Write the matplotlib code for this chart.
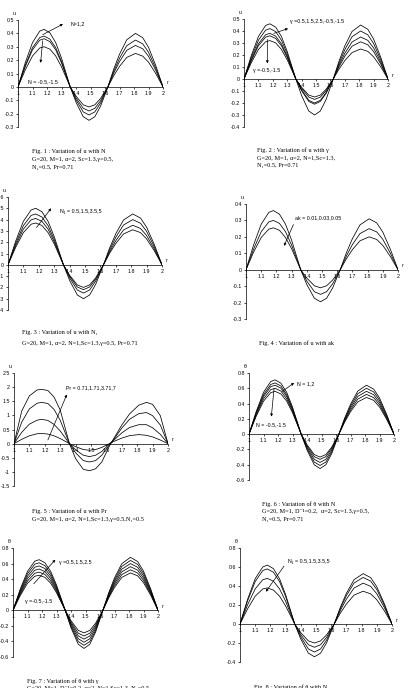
# Velocity / temperature profiles, 8 small panels (Figs. 1-8)
import matplotlib
matplotlib.use("Agg")
import matplotlib.pyplot as plt

# =========================
# Data
# =========================
r = [1.00, 1.05, 1.10, 1.15, 1.18, 1.22, 1.26, 1.30, 1.36,
     1.40, 1.45, 1.49, 1.53, 1.57, 1.62,
     1.66, 1.70, 1.75, 1.81, 1.86, 1.90, 1.95, 2.00]

# Fig 1 : u with N
u_N = [
    [0, .181, .331, .417, .43, .404, .331, .215, 0, -.069, -.134, -.15, -.134, -.086, 0, .132, .244, .352, .40, .368, .296, .16, 0],
    [0, .160, .293, .369, .38, .357, .293, .19, 0, -.083, -.160, -.18, -.160, -.103, 0, .116, .214, .308, .35, .322, .259, .14, 0],
    [0, .151, .277, .349, .36, .338, .277, .18, 0, -.097, -.187, -.21, -.187, -.120, 0, .102, .189, .273, .31, .285, .229, .124, 0],
    [0, .126, .231, .291, .30, .282, .231, .15, 0, -.115, -.223, -.25, -.223, -.143, 0, .083, .153, .22, .25, .23, .185, .10, 0],
]
# Fig 2 : u with gamma
u_gamma = [
    [0, .193, .354, .446, .46, .432, .354, .23, 0, -.069, -.134, -.15, -.134, -.086, 0, .149, .275, .396, .45, .414, .333, .18, 0],
    [0, .176, .323, .407, .42, .395, .323, .21, 0, -.078, -.151, -.17, -.151, -.097, 0, .132, .244, .352, .40, .368, .296, .16, 0],
    [0, .160, .293, .369, .38, .357, .293, .19, 0, -.092, -.178, -.20, -.178, -.114, 0, .116, .214, .308, .35, .322, .259, .14, 0],
    [0, .151, .277, .349, .36, .338, .277, .18, 0, -.097, -.187, -.21, -.187, -.120, 0, .102, .189, .273, .31, .285, .229, .124, 0],
    [0, .134, .246, .310, .32, .301, .246, .16, 0, -.138, -.267, -.30, -.267, -.171, 0, .083, .153, .22, .25, .23, .185, .10, 0],
]
# Fig 3 : u with N1
u_N1 = [
    [0, .21, .385, .485, .50, .47, .385, .25, 0, -.092, -.178, -.20, -.178, -.114, 0, .149, .275, .396, .45, .414, .333, .18, 0],
    [0, .189, .347, .437, .45, .423, .347, .225, 0, -.101, -.196, -.22, -.196, -.125, 0, .132, .244, .352, .40, .368, .296, .16, 0],
    [0, .172, .316, .398, .41, .385, .316, .205, 0, -.115, -.223, -.25, -.223, -.143, 0, .116, .214, .308, .35, .322, .259, .14, 0],
    [0, .155, .285, .359, .37, .348, .285, .185, 0, -.138, -.267, -.30, -.267, -.171, 0, .102, .189, .273, .31, .285, .229, .124, 0],
]
# Fig 4 : u with ak
u_ak = [
    [0, .151, .277, .349, .36, .338, .277, .18, 0, -.051, -.098, -.11, -.098, -.063, 0, .102, .189, .273, .31, .285, .229, .124, 0],
    [0, .126, .231, .291, .30, .282, .231, .15, 0, -.069, -.134, -.15, -.134, -.086, 0, .083, .153, .22, .25, .23, .185, .10, 0],
    [0, .107, .196, .247, .255, .24, .196, .128, 0, -.09, -.174, -.195, -.174, -.111, 0, .066, .122, .176, .20, .184, .148, .08, 0],
]
# Fig 5 : u with Pr
u_Pr = [
    [0, 1.15, 1.69, 1.90, 1.92, 1.88, 1.65, 1.19, 0, -.53, -.91, -.96, -.89, -.65, -.08, .29, .66, 1.05, 1.36, 1.46, 1.39, .99, 0],
    [0, .76, 1.23, 1.43, 1.46, 1.42, 1.21, .83, 0, -.325, -.60, -.65, -.60, -.41, -.04, .24, .55, .86, 1.06, 1.10, .99, .66, 0],
    [0, .40, .69, .83, .86, .82, .68, .45, 0, -.22, -.41, -.46, -.41, -.28, -.01, .18, .38, .57, .67, .67, .56, .33, 0],
    [0, .151, .277, .349, .36, .338, .277, .18, 0, -.108, -.209, -.235, -.209, -.134, 0, .106, .195, .282, .32, .294, .237, .128, 0],
]
# Fig 6 : theta with N
th_N = [
    [0, .298, .547, .689, .71, .667, .547, .355, 0, -.207, -.401, -.45, -.401, -.257, 0, .211, .39, .563, .64, .589, .474, .256, 0],
    [0, .281, .516, .65, .67, .63, .516, .335, 0, -.189, -.365, -.41, -.365, -.234, 0, .198, .366, .528, .60, .552, .444, .24, 0],
    [0, .269, .493, .621, .64, .602, .493, .32, 0, -.17, -.329, -.37, -.329, -.211, 0, .185, .342, .493, .56, .515, .414, .224, 0],
    [0, .252, .462, .582, .60, .564, .462, .30, 0, -.152, -.294, -.33, -.294, -.188, 0, .172, .317, .458, .52, .478, .385, .208, 0],
    [0, .235, .431, .543, .56, .526, .431, .28, 0, -.138, -.267, -.30, -.267, -.171, 0, .158, .293, .422, .48, .442, .355, .192, 0],
]
# Fig 7 : theta with gamma
th_gamma = [
    [0, .273, .50, .631, .65, .611, .50, .325, 0, -.133, -.258, -.29, -.258, -.165, 0, .224, .415, .598, .68, .626, .503, .272, 0],
    [0, .256, .47, .592, .61, .573, .47, .305, 0, -.152, -.294, -.33, -.294, -.188, 0, .211, .39, .563, .64, .589, .474, .256, 0],
    [0, .239, .439, .553, .57, .536, .439, .285, 0, -.17, -.329, -.37, -.329, -.211, 0, .198, .366, .528, .60, .552, .444, .24, 0],
    [0, .223, .408, .514, .53, .498, .408, .265, 0, -.189, -.365, -.41, -.365, -.234, 0, .185, .342, .493, .56, .515, .414, .224, 0],
    [0, .206, .377, .475, .49, .461, .377, .245, 0, -.207, -.401, -.45, -.401, -.257, 0, .172, .317, .458, .52, .478, .385, .208, 0],
    [0, .189, .347, .437, .45, .423, .347, .225, 0, -.225, -.436, -.49, -.436, -.279, 0, .158, .293, .422, .48, .442, .355, .192, 0],
]
# Fig 8 : theta with N1
th_N1 = [
    [0, .26, .477, .601, .62, .583, .477, .31, 0, -.092, -.178, -.20, -.178, -.114, 0, .175, .323, .466, .53, .488, .392, .212, 0],
    [0, .244, .447, .563, .58, .545, .447, .29, 0, -.113, -.218, -.245, -.218, -.14, 0, .162, .299, .431, .49, .451, .363, .196, 0],
    [0, .202, .37, .466, .48, .451, .37, .24, 0, -.136, -.263, -.295, -.263, -.168, 0, .142, .262, .378, .43, .396, .318, .172, 0],
    [0, .16, .293, .369, .38, .357, .293, .19, 0, -.159, -.307, -.345, -.307, -.197, 0, .114, .21, .304, .345, .317, .255, .138, 0],
]

x_ticks = [1, 1.1, 1.2, 1.3, 1.4, 1.5, 1.6, 1.7, 1.8, 1.9, 2]
x_tick_labels = ["1", "1.1", "1.2", "1.3", "1.4", "1.5", "1.6", "1.7", "1.8", "1.9", "2"]

yt_1 = [-0.3, -0.2, -0.1, 0, 0.1, 0.2, 0.3, 0.4, 0.5]
yt_2 = [-0.4, -0.3, -0.2, -0.1, 0, 0.1, 0.2, 0.3, 0.4, 0.5]
yt_3 = [-0.4, -0.3, -0.2, -0.1, 0, 0.1, 0.2, 0.3, 0.4, 0.5, 0.6]
yt_4 = [-0.3, -0.2, -0.1, 0, 0.1, 0.2, 0.3, 0.4]
yt_5 = [-1.5, -1, -0.5, 0, 0.5, 1, 1.5, 2, 2.5]
yt_6 = [-0.6, -0.4, -0.2, 0, 0.2, 0.4, 0.6, 0.8]
yt_8 = [-0.4, -0.2, 0, 0.2, 0.4, 0.6, 0.8]

# =========================
# Figure / style
# =========================
W, H = 409, 688
fig = plt.figure(figsize=(W / 100, H / 100), dpi=100)
sans = ["Liberation Sans", "DejaVu Sans"]
serif = ["Liberation Serif", "DejaVu Serif"]
TS = 3.8   # tick / annotation size
CS = 4.5   # caption size


def make_ax(left, right, top, bottom, curves, yticks, ylab):
    ax = fig.add_axes([left / W, 1 - bottom / H, (right - left) / W, (bottom - top) / H])
    for c in curves:
        ax.plot(r, c, color="black", lw=0.55)
    ax.set_xlim(1, 2)
    ax.set_ylim(yticks[0], yticks[-1])
    for s in ("top", "right"):
        ax.spines[s].set_visible(False)
    ax.spines["bottom"].set_position(("data", 0))
    for s in ("left", "bottom"):
        ax.spines[s].set_linewidth(0.5)
    ax.set_xticks(x_ticks)
    ax.set_xticklabels(x_tick_labels, family=sans, fontsize=TS)
    ax.set_yticks(yticks)
    ax.set_yticklabels([f"{v:g}" for v in yticks], family=sans, fontsize=TS)
    ax.tick_params(axis="both", length=1.5, width=0.5, pad=1.5, direction="out")
    ax.annotate(ylab, xy=(0, 1), xycoords="axes fraction", xytext=(-1.5, 3),
                textcoords="offset points", ha="right", va="bottom",
                family=sans, fontsize=TS)
    ax.annotate("r", xy=(2, 0), xycoords="data", xytext=(2.5, 1),
                textcoords="offset points", ha="left", va="bottom",
                family=sans, fontsize=TS)
    return ax


def arrow(ax, start, end):
    ax.annotate("", xy=end, xytext=start,
                arrowprops=dict(arrowstyle="-|>", lw=0.5, color="black",
                                mutation_scale=3.5, shrinkA=0, shrinkB=0))


def label(ax, x, y, s):
    ax.text(x, y, s, family=sans, fontsize=TS, ha="left", va="center")


def caption(x, y, lines, step=8):
    for i, s in enumerate(lines):
        fig.text(x / W, 1 - (y + i * step) / H, s, family=serif,
                 fontsize=CS, ha="left", va="center")


# Fig 1
ax = make_ax(18, 163, 20, 127, u_N, yt_1, "u")
arrow(ax, (1.17, 0.39), (1.31, 0.47))
label(ax, 1.36, 0.47, "N=1,2")
arrow(ax, (1.17, 0.345), (1.156, 0.18))
label(ax, 1.07, 0.04, "N = -0.5,-1.5")
caption(32, 151, ["Fig. 1 : Variation of u with N",
                  "G=20, M=1, α=2, Sc=1.3,γ=0.5,",
                  "N₁=0.5, Pr=0.71"])

# Fig 2
ax = make_ax(244, 388, 19, 127, u_gamma, yt_2, "u")
arrow(ax, (1.206, 0.38), (1.306, 0.42))
label(ax, 1.32, 0.48, "γ =0.5,1.5,2.5,-0.5,-1.5")
arrow(ax, (1.162, 0.33), (1.162, 0.13))
label(ax, 1.06, 0.07, "γ =-0.5,-1.5")
caption(257, 150, ["Fig. 2 : Variation of u with γ",
                   "G=20, M=1, α=2, N=1,Sc=1.3,",
                   "N₁=0.5, Pr=0.71"])

# Fig 3
ax = make_ax(8, 162, 197, 310, u_N1, yt_3, "u")
arrow(ax, (1.185, 0.33), (1.28, 0.50))
label(ax, 1.337, 0.47, "N₁ = 0.5,1.5,3.5,5")
caption(22, 332, ["Fig. 3 : Variation of u with N₁",
                  "G=20, M=1, α=2, N=1,Sc=1.3,γ=0.5, Pr=0.71"], step=11)

# Fig 4
ax = make_ax(246, 398, 204, 319, u_ak, yt_4, "u")
arrow(ax, (1.312, 0.275), (1.25, 0.145))
label(ax, 1.32, 0.315, "ak = 0.01,0.03,0.05")
caption(259, 343, ["Fig. 4 : Variation of u with ak"])

# Fig 5
ax = make_ax(14, 168, 373, 486, u_Pr, yt_5, "u")
arrow(ax, (1.22, 0.13), (1.343, 1.74))
label(ax, 1.336, 1.98, "Pr = 0.71,1.71,3.71,7")
caption(32, 511, ["Fig. 5 : Variation of u with Pr",
                  "G=20, M=1, α=2, N=1,Sc=1.3,γ=0.5,N₁=0.5"])

# Fig 6
ax = make_ax(249, 394, 373, 480, th_N, yt_6, "θ")
arrow(ax, (1.23, 0.56), (1.311, 0.67))
label(ax, 1.334, 0.66, "N = 1,2")
arrow(ax, (1.173, 0.60), (1.154, 0.23))
label(ax, 1.05, 0.12, "N = -0.5,-1.5")
caption(262, 504, ["Fig. 6 : Variation of θ with N",
                   "G=20, M=1, D⁻¹=0.2,  α=2, Sc=1.3,γ=0.5,",
                   "N₁=0.5, Pr=0.71"])

# Fig 7
ax = make_ax(13, 158, 548, 657, th_gamma, yt_6, "θ")
arrow(ax, (1.143, 0.34), (1.292, 0.65))
label(ax, 1.32, 0.62, "γ =0.5,1.5,2.5")
label(ax, 1.085, 0.115, "γ =-0.5,-1.5")
caption(27, 681, ["Fig. 7 : Variation of θ with γ",
                  "G=20, M=1, D⁻¹=0.2, α=2, N=1,Sc=1.3, N₁=0.5"])

# Fig 8
ax = make_ax(240, 392, 548, 662, th_N1, yt_8, "θ")
arrow(ax, (1.29, 0.61), (1.17, 0.34))
label(ax, 1.317, 0.66, "N₁ = 0.5,1.5,3.5,5")
caption(254, 687, ["Fig. 8 : Variation of θ with N₁"])

fig.savefig("out.png", dpi=100)
